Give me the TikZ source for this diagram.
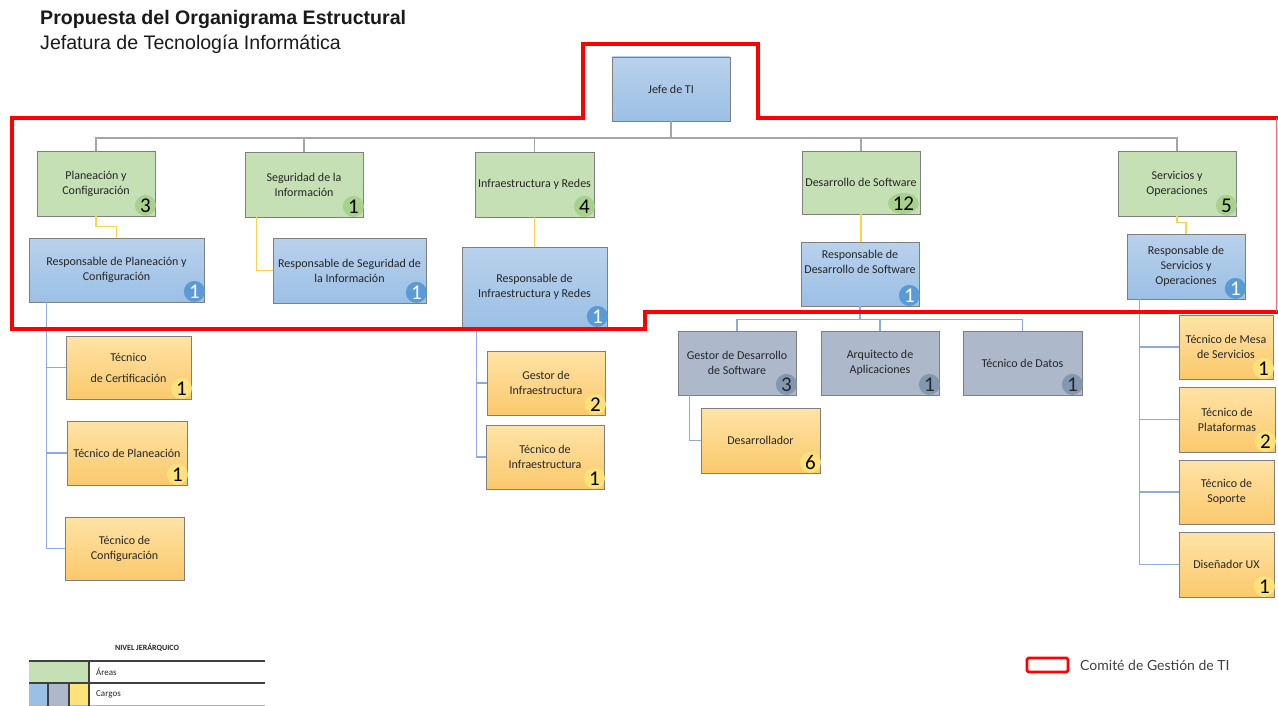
\documentclass[tikz,border=0pt]{standalone}
\usepackage{fontspec}
\setmainfont{Carlito}
\newfontfamily\arialf{Liberation Sans}
\newfontfamily\latof{Lato}
\usetikzlibrary{calc,shapes.geometric}

\definecolor{grnF}{HTML}{C5E0B4}
\definecolor{grnBadge}{HTML}{A9D18E}
\definecolor{bluT}{HTML}{B9D1EC}
\definecolor{bluB}{HTML}{9BC0E5}
\definecolor{bluBadge}{HTML}{5B9BD5}
\definecolor{gryF}{HTML}{ADB9CA}
\definecolor{gryBadge}{HTML}{8497B0}
\definecolor{ylwT}{HTML}{FFE3A6}
\definecolor{ylwB}{HTML}{FAC96C}
\definecolor{ylwBadge}{HTML}{FFE27A}
\definecolor{bordr}{HTML}{7F7F7F}
\definecolor{lnGray}{HTML}{A6A6A6}
\definecolor{lnYel}{HTML}{FFD24D}
\definecolor{lnBlu}{HTML}{8FAADC}
\definecolor{txt}{HTML}{262626}
\definecolor{lgLine}{HTML}{404040}

\tikzset{
  box/.style={draw=bordr, line width=0.8pt, inner sep=0pt, align=center,
    font=\fontsize{12}{15}\selectfont, text=txt},
  area/.style={box, fill=grnF},
  resp/.style={box, top color=bluT, bottom color=bluB},
  gris/.style={box, fill=gryF},
  tec/.style={box, top color=ylwT, bottom color=ylwB},
  badge/.style={circle, inner sep=0pt, minimum size=21pt,
    font=\fontsize{21}{21}\selectfont},
  gline/.style={draw=lnGray, line width=1.4pt},
  yline/.style={draw=lnYel, line width=1.2pt},
  bline/.style={draw=lnBlu, line width=1.3pt},
  frame/.style={draw=red, line width=4pt, line join=miter}
}

\newcommand\obox[7]{\node[#2, minimum width={(#5-#3)*1pt}, minimum height={(#6-#4)*1pt}] (#1) at ({(#3+#5)/2},{(#4+#6)/2}) {#7};}
\newcommand\obadge[5]{\node[badge, fill=#3, text=#4] (#1) at ($(#2.south east)+(-10,-11)$) {#5};}

\begin{document}
\begin{tikzpicture}[x=1pt,y=-1pt]
\useasboundingbox (0,0) rectangle (1278,706);

% titles
\node[anchor=base west, inner sep=0pt, text={rgb,255:red,26;green,26;blue,26}, font=\arialf\bfseries\fontsize{19.6}{20}\selectfont] (title) at (40,25) {Propuesta del Organigrama Estructural};
\node[anchor=base west, inner sep=0pt, text={rgb,255:red,26;green,26;blue,26}, font=\arialf\fontsize{19.6}{20}\selectfont] (subtitle) at (40,50) {Jefatura de Tecnología Informática};

% boxes
\obox{jefe}{resp}{612}{57}{730}{121}{Jefe de TI}
\obox{plan}{area}{37}{151}{155}{216}{Planeación y\\Configuración}
\obox{seg}{area}{245}{152}{363}{217}{Seguridad de la\\Información}
\obox{infra}{area}{475}{152}{594}{217}{Infraestructura y Redes}
\obox{des}{area}{802}{151}{920}{214}{Desarrollo de Software}
\obox{serv}{area}{1118}{151}{1236}{216}{Servicios y\\Operaciones}

\obox{rplan}{resp}{29}{238}{204}{302}{Responsable de Planeación y\\Configuración}
\obox{rseg}{resp}{273}{238}{426}{303}{Responsable de Seguridad de\\la Información}
\obox{rinfra}{resp}{462}{247}{607}{327}{Responsable de\\Infraestructura y Redes}
\obox{rdes}{resp}{801}{242}{919}{306}{Responsable de\\Desarrollo de Software\\[9pt]\mbox{}}
\obox{rserv}{resp}{1127}{234}{1245}{299}{Responsable de\\Servicios y\\Operaciones}

\obox{tcert}{tec}{66}{336}{191}{399}{Técnico\\[6pt]de Certificación}
\obox{tplan}{tec}{67}{421}{187}{485}{Técnico de Planeación}
\obox{tconf}{tec}{65}{517}{184}{580}{Técnico de\\Configuración}
\obox{ginf}{tec}{487}{351}{605}{415}{Gestor de\\Infraestructura}
\obox{tinf}{tec}{486}{425}{604}{489}{Técnico de\\Infraestructura}
\obox{gdes}{gris}{678}{331}{796}{395}{Gestor de Desarrollo\\de Software}
\obox{arq}{gris}{821}{331}{939}{395}{Arquitecto de\\Aplicaciones}
\obox{tdat}{gris}{963}{331}{1082}{395}{Técnico de Datos}
\obox{desa}{tec}{701}{408}{820}{473}{Desarrollador}
\obox{tmesa}{tec}{1179}{315}{1273}{379}{Técnico de Mesa\\de Servicios}
\obox{tplat}{tec}{1179}{387}{1275}{452}{Técnico de\\Plataformas}
\obox{tsop}{tec}{1179}{460}{1274}{524}{Técnico de\\Soporte}
\obox{tux}{tec}{1179}{532}{1274}{597}{Diseñador UX}

% badges
\obadge{bplan}{plan}{grnBadge}{black}{3}
\obadge{bseg}{seg}{grnBadge}{black}{1}
\obadge{binfra}{infra}{grnBadge}{black}{4}
\node[badge, ellipse, minimum width=31pt, minimum height=21pt, fill=grnBadge, text=black] (bdes) at ($(des.south east)+(-17,-11)$) {12};
\obadge{bserv}{serv}{grnBadge}{black}{5}
\obadge{brplan}{rplan}{bluBadge}{white}{1}
\obadge{brseg}{rseg}{bluBadge}{white}{1}
\obadge{brinfra}{rinfra}{bluBadge}{white}{1}
\obadge{brdes}{rdes}{bluBadge}{white}{1}
\obadge{brserv}{rserv}{bluBadge}{white}{1}
\obadge{btcert}{tcert}{ylwBadge}{black}{1}
\obadge{btplan}{tplan}{ylwBadge}{black}{1}
\obadge{bginf}{ginf}{ylwBadge}{black}{2}
\obadge{btinf}{tinf}{ylwBadge}{black}{1}
\obadge{bgdes}{gdes}{gryBadge}{txt}{3}
\obadge{barq}{arq}{gryBadge}{txt}{1}
\obadge{btdat}{tdat}{gryBadge}{txt}{1}
\obadge{bdesa}{desa}{ylwBadge}{black}{6}
\obadge{btmesa}{tmesa}{ylwBadge}{black}{1}
\obadge{btplat}{tplat}{ylwBadge}{black}{2}
\obadge{btux}{tux}{ylwBadge}{black}{1}

% gray tree
\coordinate (bus) at (671,138);
\draw[gline] (jefe.south) -- (bus);
\draw[gline] (bus) -| (plan.north);
\draw[gline] (bus) -| (seg.north);
\draw[gline] (bus) -| (infra.north);
\draw[gline] (bus) -| (des.north);
\draw[gline] (bus) -| (serv.north);

% yellow links
\draw[yline] (plan.south) -- ++(0,10) -| (rplan.north);
\draw[yline] ($(seg.south west)+(12,0)$) |- (rseg.west);
\draw[yline] (infra.south) -- (rinfra.north);
\draw[yline] (des.south) -- (des.south |- rdes.north);
\draw[yline] (serv.south) -- ++(0,6) -| (rserv.north);

% blue links
\draw[bline] ($(rplan.south west)+(18,0)$) |- (tcert.west);
\draw[bline] ($(rplan.south west)+(18,0)$) |- (tplan.west);
\draw[bline] ($(rplan.south west)+(18,0)$) |- (tconf.west);
\draw[bline] ($(rinfra.south west)+(15,0)$) |- (ginf.west);
\draw[bline] ($(rinfra.south west)+(15,0)$) |- (tinf.west);
\draw[bline] (rdes.south) -- ++(0,13) -| (gdes.north);
\draw[bline] (rdes.south) -- ++(0,13) -| (arq.north);
\draw[bline] (rdes.south) -- ++(0,13) -| (tdat.north);
\draw[bline] ($(gdes.south west)+(12,0)$) |- (desa.west);
\draw[bline] ($(rserv.south west)+(13,0)$) |- (tmesa.west);
\draw[bline] ($(rserv.south west)+(13,0)$) |- (tplat.west);
\draw[bline] ($(rserv.south west)+(13,0)$) |- (tsop.west);
\draw[bline] ($(rserv.south west)+(13,0)$) |- (tux.west);

% red committee frame
\draw[frame] (1278,118) -- (758,118) -- (758,44) -- (583,44) -- (583,118) -- (12,118) -- (12,329) -- (645,329) -- (645,312) -- (1278,312);
\draw[red!60, line width=1pt] (1276.5,118) -- (1276.5,312);

% legend: nivel jerarquico
\node[font=\bfseries\fontsize{8}{9}\selectfont, text=txt] (lgtitle) at (147,648) {NIVEL JERÁRQUICO};
\fill[grnF] (29,661) rectangle (89,683);
\fill[bluB] (29,683) rectangle (48,705);
\fill[gryF] (48,683) rectangle (69,705);
\fill[ylwBadge] (69,683) rectangle (89,705);
\draw[lgLine, line width=1.6pt] (29,661) -- (265,661);
\draw[lgLine, line width=1.6pt] (29,683) -- (265,683);
\draw[gray!60, line width=1pt] (29,705) -- (265,705);
\draw[lgLine, line width=1.6pt] (89,661) -- (89,706);
\draw[lgLine, line width=1.4pt] (48,683) -- (48,706);
\draw[lgLine, line width=1.4pt] (69,683) -- (69,706);
\node[anchor=west, inner sep=0pt, font=\fontsize{9}{10}\selectfont, text=txt] (lgareas) at (96,672) {Áreas};
\node[anchor=west, inner sep=0pt, font=\fontsize{9}{10}\selectfont, text=txt] (lgcargos) at (96,694) {Cargos};

% legend: comite
\draw[red, line width=2.6pt, rounded corners=1.5pt] (1027,658) rectangle (1068,672);
\node[anchor=west, inner sep=0pt, font=\latof\fontsize{14}{14}\selectfont, text=lgLine] (comite) at (1080,665) {Comité de Gestión de TI};
\end{tikzpicture}
\end{document}
